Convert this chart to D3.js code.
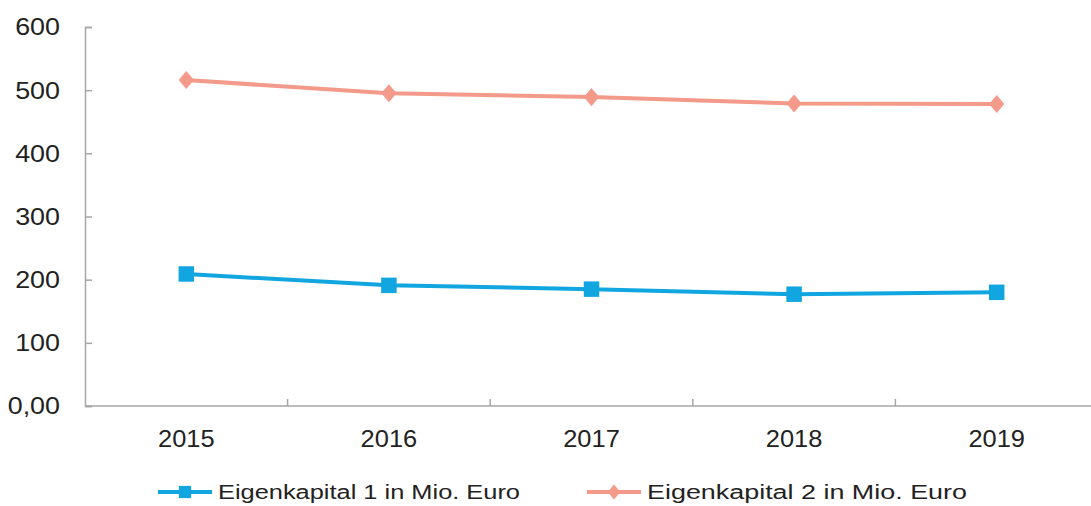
<!DOCTYPE html>
<html>
<head>
<meta charset="utf-8">
<script src="https://cdn.jsdelivr.net/npm/d3@7"></script>
<style>
  body { margin: 0; background: #fff; }
  text { font-family: "Liberation Sans", Arial, sans-serif; fill: #222; }
</style>
</head>
<body>
<div id="chart"></div>
<script>
// data
const years = ["2015", "2016", "2017", "2018", "2019"];
const ek1 = [209, 191, 185, 177, 180];
const ek2 = [516, 495, 489, 479, 478];
const yTicks = [0, 100, 200, 300, 400, 500, 600];
const seriesNames = ["Eigenkapital 1 in Mio. Euro", "Eigenkapital 2 in Mio. Euro"];

const width = 1091, height = 506;
const margin = {top: 27, bottom: 100, left: 85, right: -7};
const blue = "#12a6e0", salmon = "#f49a8a", axisCol = "#a6a6a6";

const svg = d3.select("#chart").append("svg")
  .attr("width", width)
  .attr("height", height);

// the source picture is a bit wider than tall, widen the glyphs
function stretch(sel, f) {
  sel.each(function() {
    const w = this.getComputedTextLength();
    d3.select(this).attr("textLength", w * f).attr("lengthAdjust", "spacingAndGlyphs");
  });
}

// diamond a bit wider than d3's own
const diamond = {
  draw(ctx, size) {
    const h = Math.sqrt(size / 1.6), w = h * 0.85;
    ctx.moveTo(0, -h); ctx.lineTo(w, 0); ctx.lineTo(0, h); ctx.lineTo(-w, 0); ctx.closePath();
  }
};

const xScale = d3.scaleBand()
  .domain(years)
  .range([margin.left, width - margin.right]);

const yScale = d3.scaleLinear()
  .domain([0, 600])
  .range([height - margin.bottom, margin.top]);

// y axis, ticks pointing inward
const yAxis = svg.append("g")
  .attr("transform", "translate(" + margin.left + ",0)")
  .call(d3.axisLeft(yScale).tickValues(yTicks).tickSize(-7).tickPadding(25)
    .tickFormat(d => d === 0 ? "0,00" : d));
yAxis.select(".domain").attr("stroke", axisCol).attr("stroke-width", 1.5);
yAxis.selectAll(".tick line").attr("stroke", axisCol).attr("stroke-width", 1.5);
yAxis.selectAll("text").style("font-size", "24px").attr("dy", "0.33em")
  .attr("font-family", null).call(stretch, 1.12);

// x axis: line plus separators between categories
const x0 = yScale(0);
svg.append("line")
  .attr("x1", margin.left).attr("x2", width)
  .attr("y1", x0).attr("y2", x0)
  .attr("stroke", axisCol).attr("stroke-width", 1.5);
svg.selectAll(".sep")
  .data(years.slice(1))
  .enter().append("line")
  .attr("x1", d => xScale(d)).attr("x2", d => xScale(d))
  .attr("y1", x0).attr("y2", x0 - 7)
  .attr("stroke", axisCol).attr("stroke-width", 1.5);
svg.selectAll(".xlab")
  .data(years)
  .enter().append("text")
  .attr("x", d => xScale(d) + xScale.bandwidth() / 2)
  .attr("y", x0 + 41)
  .attr("text-anchor", "middle")
  .style("font-size", "24px")
  .text(d => d)
  .call(stretch, 1.06);

const line = d3.line()
  .x((d, i) => xScale(years[i]) + xScale.bandwidth() / 2)
  .y(d => yScale(d));

function drawSeries(vals, col, shape, size) {
  svg.append("path")
    .datum(vals)
    .attr("d", line)
    .attr("fill", "none")
    .attr("stroke", col)
    .attr("stroke-width", 4);
  svg.selectAll(null)
    .data(vals)
    .enter().append("path")
    .attr("transform", (d, i) => "translate(" + (xScale(years[i]) + xScale.bandwidth() / 2) + "," + yScale(d) + ")")
    .attr("d", d3.symbol().type(shape).size(size))
    .attr("fill", col);
}
drawSeries(ek2, salmon, diamond, 130);
drawSeries(ek1, blue, d3.symbolSquare, 240);

// legend
const legend = [
  {name: seriesNames[0], col: blue, shape: d3.symbolSquare, size: 150, x: 158, w: 302},
  {name: seriesNames[1], col: salmon, shape: diamond, size: 90, x: 587, w: 320}
];
const ly = 492;
legend.forEach(l => {
  svg.append("line")
    .attr("x1", l.x).attr("x2", l.x + 54)
    .attr("y1", ly).attr("y2", ly)
    .attr("stroke", l.col).attr("stroke-width", 4);
  svg.append("path")
    .attr("transform", "translate(" + (l.x + 27) + "," + ly + ")")
    .attr("d", d3.symbol().type(l.shape).size(l.size))
    .attr("fill", l.col);
  svg.append("text")
    .attr("x", l.x + 60)
    .attr("y", ly + 7)
    .style("font-size", "20px")
    .attr("textLength", l.w)
    .attr("lengthAdjust", "spacingAndGlyphs")
    .text(l.name);
});
</script>
</body>
</html>
